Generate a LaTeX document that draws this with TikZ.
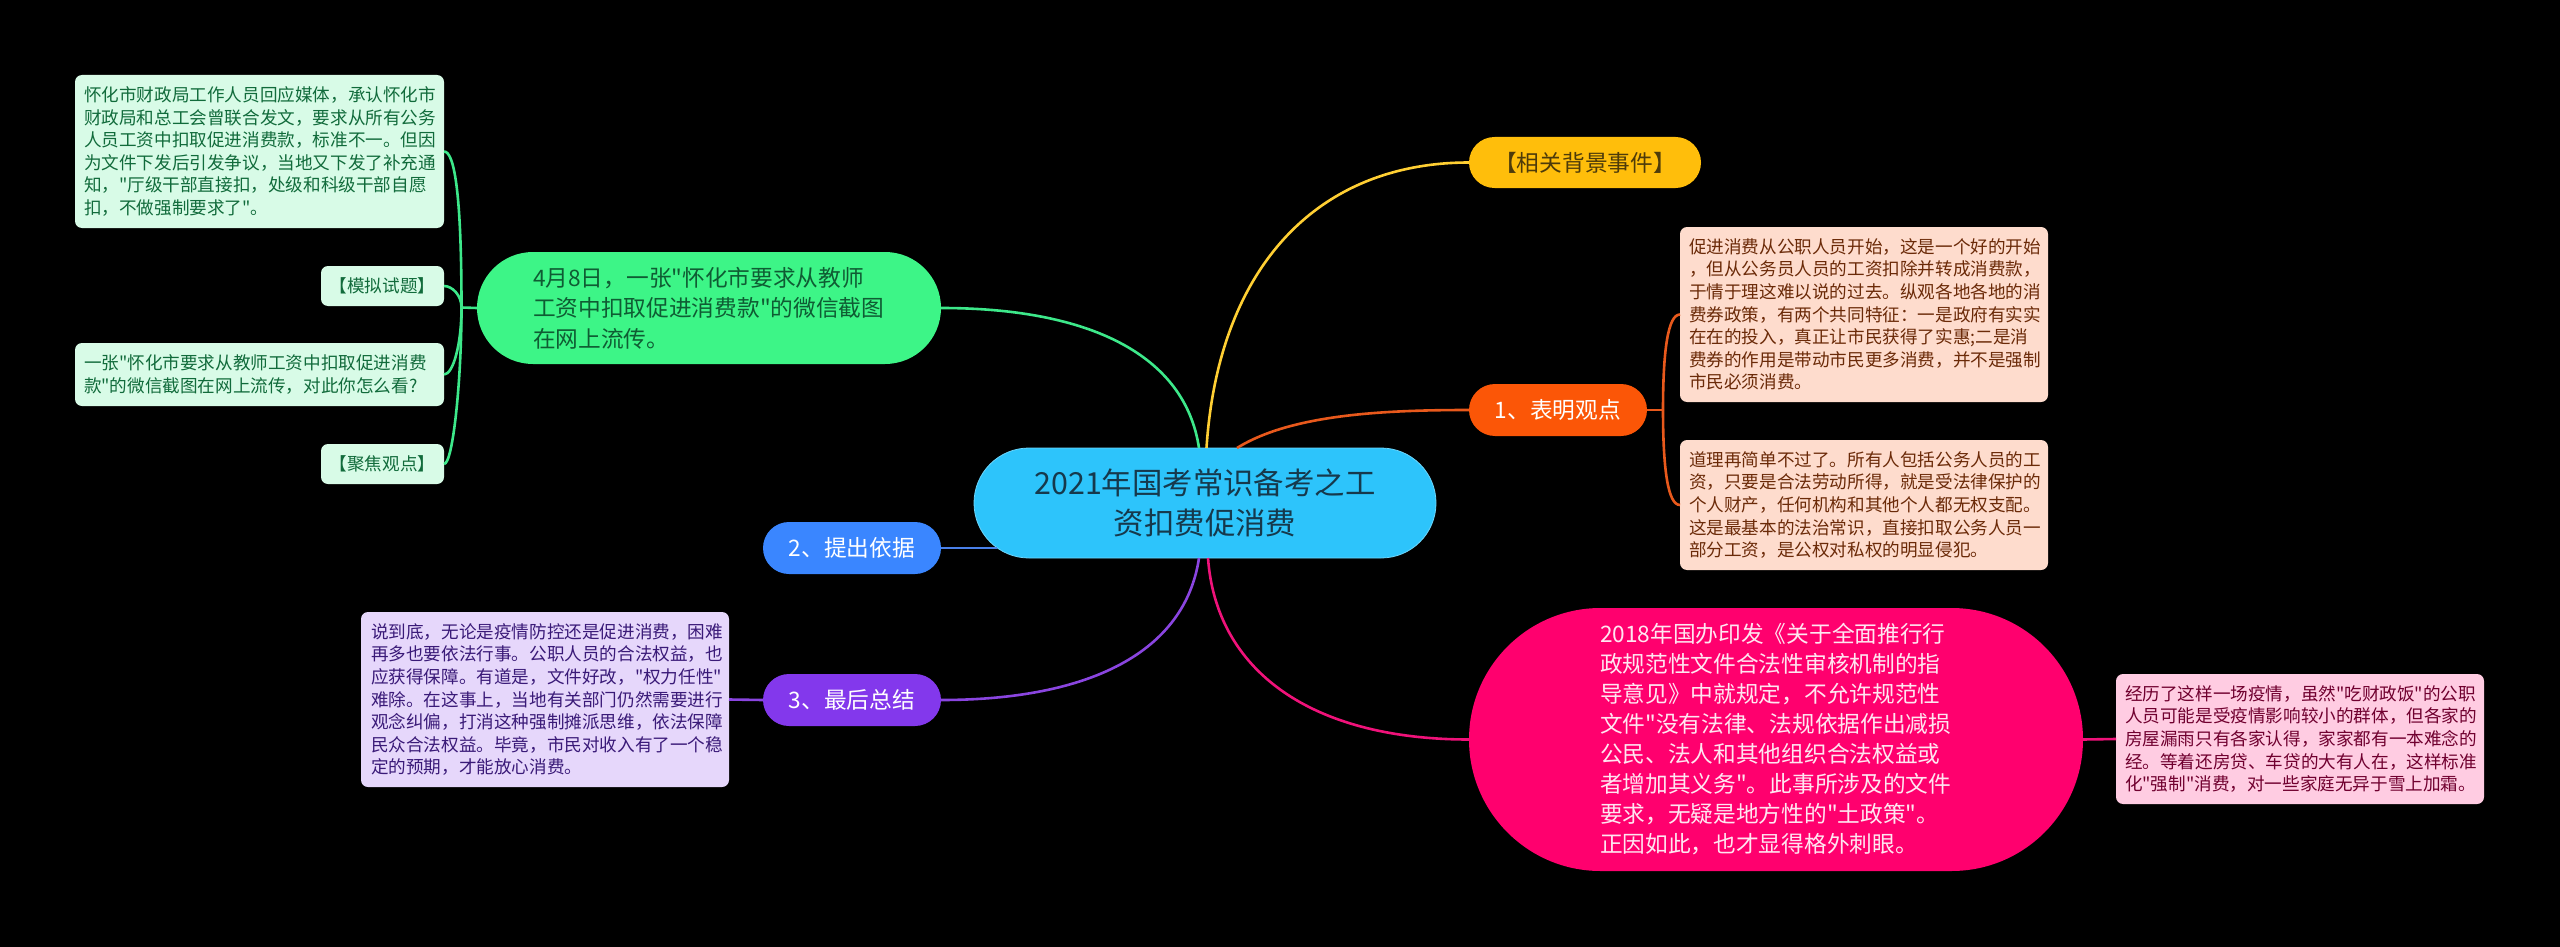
\documentclass[tikz,border=0pt]{standalone}
\usepackage{fontspec}
\newfontfamily\cjkmain{Noto Sans CJK SC}
\newcommand\fsz[2]{\cjkmain\fontsize{#1}{#2}\selectfont}
\definecolor{bgc}{HTML}{000000}
\definecolor{rootf}{HTML}{2DC4FB}\definecolor{roott}{HTML}{16394C}
\definecolor{grnf}{HTML}{3DF587}\definecolor{grnt}{HTML}{0F5C33}\definecolor{grnl}{HTML}{3DE88A}\definecolor{grnb}{HTML}{D8FBE7}\definecolor{grnd}{HTML}{116B3B}
\definecolor{yelf}{HTML}{FFBE0B}\definecolor{yelt}{HTML}{4D3B0A}\definecolor{yell}{HTML}{FFCF33}
\definecolor{orgf}{HTML}{FB5607}\definecolor{orgl}{HTML}{E8591C}\definecolor{orgb}{HTML}{FEDCCD}\definecolor{orgd}{HTML}{6B2A08}
\definecolor{pnkf}{HTML}{FF006E}\definecolor{pnkl}{HTML}{F0127A}\definecolor{pnkb}{HTML}{FFCCE2}\definecolor{pnkd}{HTML}{70002F}\definecolor{pnkt}{HTML}{FFE6F1}
\definecolor{bluf}{HTML}{3A86FF}\definecolor{blul}{HTML}{4A80E8}
\definecolor{purf}{HTML}{8338EC}\definecolor{purl}{HTML}{8A45E0}\definecolor{purb}{HTML}{E6D7FB}\definecolor{purd}{HTML}{3A1A78}
\tikzset{
  base/.style={anchor=north west,rectangle,inner ysep=0pt,outer sep=0pt},
  pilltext/.style={font=\fsz{22.7}{30.5}},
  pill/.style args={#1/#2}{base,pilltext,align=center,inner xsep=0pt,minimum width=#1,minimum height=#2,rounded corners=#2/2},
  pillleft/.style args={#1/#2/#3}{base,pilltext,align=left,inner xsep=#3,text width=#1-2*#3,minimum height=#2,rounded corners=#2/2},
  leaftext/.style={font=\fsz{17.6}{22.6}},
  leafbox/.style args={#1/#2}{base,leaftext,align=left,inner xsep=9pt,text width=#1-18pt,minimum height=#2,rounded corners=7pt},
  leafshort/.style args={#1/#2}{base,leaftext,align=center,inner xsep=0pt,minimum width=#1,minimum height=#2,rounded corners=7pt},
  link/.style={line width=2.6pt},
}
\begin{document}
\begin{tikzpicture}[x=1pt,y=-1pt]
\useasboundingbox[fill=bgc] (0,0) rectangle (2560,947);

% root
\node[pill=462pt/110pt,fill=rootf,draw=rootf!70!white,line width=0.8pt,text=roott,font=\fsz{30.4}{40}] (root) at (974,448) {2021年国考常识备考之工\\资扣费促消费};

% first level
\node[pill=232pt/51pt,fill=yelf,text=yelt] (yel) at (1469,137) {【相关背景事件】};
\node[pill=178pt/52pt,fill=orgf,text=white] (org) at (1469,384) {1、表明观点};
\node[pillleft=614pt/263pt/131pt,fill=pnkf,text=pnkt,font=\fsz{22.7}{30}] (pnk) at (1469,608) {2018年国办印发《关于全面推行行\\政规范性文件合法性审核机制的指\\导意见》中就规定，不允许规范性\\文件"没有法律、法规依据作出减损\\公民、法人和其他组织合法权益或\\者增加其义务"。此事所涉及的文件\\要求，无疑是地方性的"土政策"。\\正因如此，也才显得格外刺眼。};
\node[pillleft=464pt/112pt/56pt,fill=grnf,text=grnt] (grn) at (477,252) {4月8日，一张"怀化市要求从教师\\工资中扣取促进消费款"的微信截图\\在网上流传。};
\node[pill=178pt/52pt,fill=bluf,text=white] (blu) at (763,522) {2、提出依据};
\node[pill=178pt/52pt,fill=purf,text=white] (pur) at (763,674) {3、最后总结};

% green leaves
\node[leafbox=369pt/153pt,fill=grnb,text=grnd] (g1) at (75,75) {怀化市财政局工作人员回应媒体，承认怀化市\\财政局和总工会曾联合发文，要求从所有公务\\人员工资中扣取促进消费款，标准不一。但因\\为文件下发后引发争议，当地又下发了补充通\\知，"厅级干部直接扣，处级和科级干部自愿\\扣，不做强制要求了"。};
\node[leafshort=123pt/40pt,fill=grnb,text=grnd] (g2) at (321,266) {【模拟试题】};
\node[leafbox=369pt/63pt,fill=grnb,text=grnd] (g3) at (75,343) {一张"怀化市要求从教师工资中扣取促进消费\\款"的微信截图在网上流传，对此你怎么看?};
\node[leafshort=123pt/40pt,fill=grnb,text=grnd] (g4) at (321,444) {【聚焦观点】};

% purple leaf
\node[leafbox=368pt/175pt,fill=purb,text=purd,inner xsep=10pt,text width=348pt] (p1) at (361,612) {说到底，无论是疫情防控还是促进消费，困难\\再多也要依法行事。公职人员的合法权益，也\\应获得保障。有道是，文件好改，"权力任性"\\难除。在这事上，当地有关部门仍然需要进行\\观念纠偏，打消这种强制摊派思维，依法保障\\民众合法权益。毕竟，市民对收入有了一个稳\\定的预期，才能放心消费。};

% orange leaves
\node[leafbox=368pt/175pt,fill=orgb,text=orgd] (o1) at (1680,227) {促进消费从公职人员开始，这是一个好的开始\\，但从公务员人员的工资扣除并转成消费款，\\于情于理这难以说的过去。纵观各地各地的消\\费券政策，有两个共同特征：一是政府有实实\\在在的投入，真正让市民获得了实惠;二是消\\费券的作用是带动市民更多消费，并不是强制\\市民必须消费。};
\node[leafbox=368pt/130pt,fill=orgb,text=orgd] (o2) at (1680,440) {道理再简单不过了。所有人包括公务人员的工\\资，只要是合法劳动所得，就是受法律保护的\\个人财产，任何机构和其他个人都无权支配。\\这是最基本的法治常识，直接扣取公务人员一\\部分工资，是公权对私权的明显侵犯。};

% pink leaf
\node[leafbox=368pt/130pt,fill=pnkb,text=pnkd] (k1) at (2116,674) {经历了这样一场疫情，虽然"吃财政饭"的公职\\人员可能是受疫情影响较小的群体，但各家的\\房屋漏雨只有各家认得，家家都有一本难念的\\经。等着还房贷、车贷的大有人在，这样标准\\化"强制"消费，对一些家庭无异于雪上加霜。};

% anchor points
\coordinate (rY) at (1206.5,448);
\coordinate (rO) at (1237,448);
\coordinate (rG) at (1199,448);
\coordinate (rP) at (1199,558);
\coordinate (rK) at (1208,558);
\coordinate (rB) at (997.4,548);
\coordinate (gj) at (461.5,307.5);
\coordinate (oj) at (1663,410);

% connectors from root
\draw[link,yell] (rY) .. controls (1218,270) and (1315,162.5) .. (yel.west);
\draw[link,orgl] (rO) .. controls (1290,415) and (1380,410) .. (org.west);
\draw[link,pnkl] (rK) .. controls (1216,670) and (1310,739.5) .. (pnk.west);
\draw[link,grnl] (rG) .. controls (1185,355) and (1090,308) .. (grn.east);
\draw[link,blul] (rB) -- (blu.east);
\draw[link,purl] (rP) .. controls (1185,652) and (1090,700) .. (pur.east);

% green bracket
\draw[link,grnl] (grn.west) -- (gj);
\draw[link,grnl] (gj) .. controls (461.5,190) and (454,151.5) .. (g1.east);
\draw[link,grnl] (gj) .. controls (461.5,295) and (452,286) .. (g2.east);
\draw[link,grnl] (gj) .. controls (461.5,345) and (453,374.5) .. (g3.east);
\draw[link,grnl] (gj) .. controls (461.5,380) and (453,464) .. (g4.east);

% orange bracket
\draw[link,orgl] (org.east) -- (oj);
\draw[link,orgl] (oj) .. controls (1663,350) and (1668,314.5) .. (o1.west);
\draw[link,orgl] (oj) .. controls (1663,470) and (1668,505) .. (o2.west);

% straight links
\draw[link,purl] (pur.west) -- (p1.east);
\draw[link,pnkl] (pnk.east) -- (k1.west);
\end{tikzpicture}
\end{document}
